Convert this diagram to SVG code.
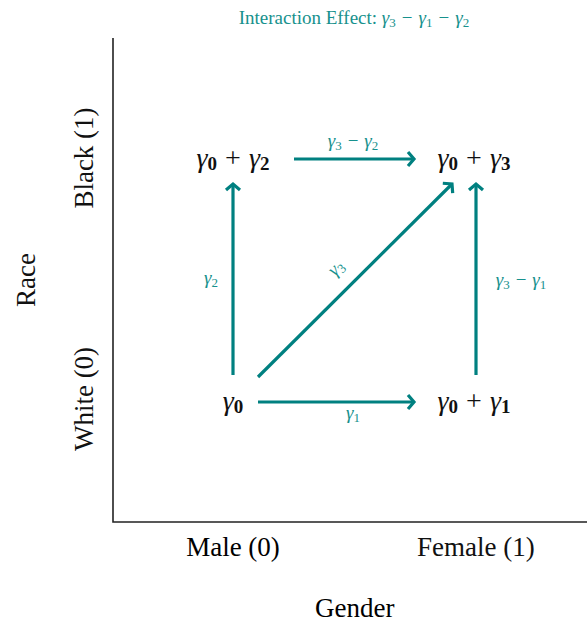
<svg xmlns="http://www.w3.org/2000/svg" width="587" height="628" viewBox="0 0 587 628">
<defs>
<marker id="ah" markerUnits="userSpaceOnUse" markerWidth="24" markerHeight="24" viewBox="-12 -12 24 24" refX="0" refY="0" orient="auto">
<path d="M-6,-7 L0,0 L-6,7" fill="none" stroke="#008080" stroke-width="3.2"/>
</marker>
</defs>
<g id="axes">
<path d="M113,38 V522 H587" fill="none" stroke="#222" stroke-width="1.6"/>
</g>
<g id="title">
<text font-family="Liberation Serif" font-size="19" fill="#17918d" text-anchor="middle" x="354" y="24">Interaction Effect: <tspan font-style="italic">γ</tspan><tspan font-size="13" dy="3">3</tspan><tspan dx="6" dy="-3">−</tspan><tspan font-style="italic" dx="6">γ</tspan><tspan font-size="13" dy="3">1</tspan><tspan dx="6" dy="-3">−</tspan><tspan font-style="italic" dx="6">γ</tspan><tspan font-size="13" dy="3">2</tspan></text>
</g>
<g id="axis-labels">
<text font-family="Liberation Serif" font-size="27" fill="#111" text-anchor="middle" transform="translate(93,158) rotate(-90)">Black (1)</text>
<text font-family="Liberation Serif" font-size="27" fill="#111" text-anchor="middle" transform="translate(93,399) rotate(-90)">White (0)</text>
<text font-family="Liberation Serif" font-size="27" fill="#111" text-anchor="middle" transform="translate(35,280) rotate(-90)">Race</text>
<text font-family="Liberation Serif" font-size="27" text-anchor="middle" x="233" y="556">Male (0)</text>
<text font-family="Liberation Serif" font-size="27" fill="#111" x="417" y="556">Female (1)</text>
<text font-family="Liberation Serif" font-size="27" x="315" y="617">Gender</text>
</g>
<g id="connectors">
<g fill="none" stroke="#008080" stroke-width="3.2" marker-end="url(#ah)">
<path d="M294,159 H414"/>
<path d="M258,402 H414"/>
<path d="M233,375 V184"/>
<path d="M476,375 V184"/>
<path d="M258,377 L452,184"/>
</g>
<text font-family="Liberation Serif" font-size="19" fill="#17918d" text-anchor="middle" x="353" y="147"><tspan font-style="italic">γ</tspan><tspan font-size="13" dy="3">3</tspan><tspan dx="6" dy="-3">−</tspan><tspan font-style="italic" dx="6">γ</tspan><tspan font-size="13" dy="3">2</tspan></text>
<text font-family="Liberation Serif" font-size="19" fill="#17918d" text-anchor="middle" x="353" y="419"><tspan font-style="italic">γ</tspan><tspan font-size="13" dy="3">1</tspan></text>
<text font-family="Liberation Serif" font-size="19" fill="#17918d" text-anchor="middle" x="211" y="284"><tspan font-style="italic">γ</tspan><tspan font-size="13" dy="3">2</tspan></text>
<text font-family="Liberation Serif" font-size="19" fill="#17918d" text-anchor="middle" x="521" y="286"><tspan font-style="italic">γ</tspan><tspan font-size="13" dy="3">3</tspan><tspan dx="6" dy="-3">−</tspan><tspan font-style="italic" dx="6">γ</tspan><tspan font-size="13" dy="3">1</tspan></text>
<text font-family="Liberation Serif" font-size="19" fill="#17918d" text-anchor="middle" transform="translate(340,272) rotate(-45)"><tspan font-style="italic">γ</tspan><tspan font-size="13" dy="3">3</tspan></text>
</g>
<g id="n00">
<text font-family="Liberation Serif" font-size="28" fill="#111" text-anchor="middle" x="233" y="410"><tspan font-style="italic">γ</tspan><tspan font-weight="bold" font-size="19" dy="3">0</tspan></text>
</g>
<g id="n01">
<text font-family="Liberation Serif" font-size="28" fill="#111" text-anchor="middle" x="233" y="167"><tspan font-style="italic">γ</tspan><tspan font-weight="bold" font-size="19" dy="3">0</tspan><tspan dx="8" dy="-3">+</tspan><tspan font-style="italic" dx="8">γ</tspan><tspan font-weight="bold" font-size="19" dy="3">2</tspan></text>
</g>
<g id="n10">
<text font-family="Liberation Serif" font-size="28" fill="#111" text-anchor="middle" x="474" y="410"><tspan font-style="italic">γ</tspan><tspan font-weight="bold" font-size="19" dy="3">0</tspan><tspan dx="8" dy="-3">+</tspan><tspan font-style="italic" dx="8">γ</tspan><tspan font-weight="bold" font-size="19" dy="3">1</tspan></text>
</g>
<g id="n11">
<text font-family="Liberation Serif" font-size="28" fill="#111" text-anchor="middle" x="474" y="167"><tspan font-style="italic">γ</tspan><tspan font-weight="bold" font-size="19" dy="3">0</tspan><tspan dx="8" dy="-3">+</tspan><tspan font-style="italic" dx="8">γ</tspan><tspan font-weight="bold" font-size="19" dy="3">3</tspan></text>
</g>
</svg>
